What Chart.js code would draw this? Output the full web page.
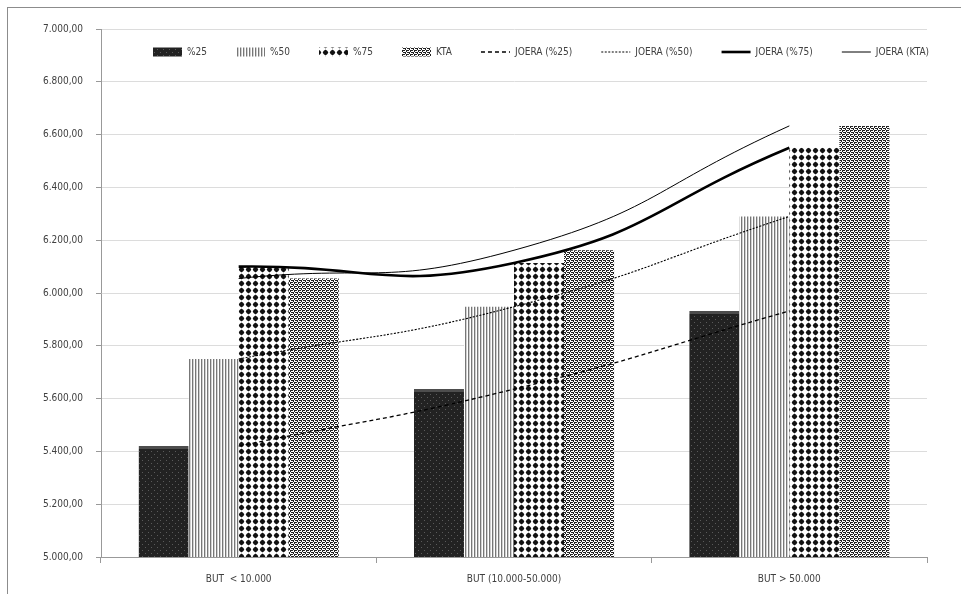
<!DOCTYPE html>
<html>
<head>
<meta charset="utf-8">
<script src="https://cdn.jsdelivr.net/npm/chart.js@4.4.1/dist/chart.umd.min.js"></script>
<style>
  html, body { margin: 0; padding: 0; background: #fff; overflow: hidden; }
  #frame { position: absolute; left: 7px; top: 7px; width: 1100px; height: 800px; border: 1px solid #8c8c8c; }
  #chart { position: absolute; left: 0; top: 0; }
</style>
</head>
<body>
<div id="frame"></div>
<canvas id="chart" width="961" height="594"></canvas>
<script>
// data
const categories = ['BUT  < 10.000', 'BUT (10.000-50.000)', 'BUT > 50.000'];
const p25 = [5420, 5636, 5932];
const p50 = [5750, 5948, 6290];
const p75 = [6100, 6114, 6550];
const kta = [6055, 6162, 6633];
const barNames = ['%25', '%50', '%75', 'KTA'];
const trendNames = ['JOERA (%25)', 'JOERA (%50)', 'JOERA (%75)', 'JOERA (KTA)'];

const canvas = document.getElementById('chart');
const ctx = canvas.getContext('2d');

// fill patterns
function makePattern(w, h, draw) {
    const c = document.createElement('canvas');
    c.width = w;
    c.height = h;
    const g = c.getContext('2d');
    draw(g);
    return ctx.createPattern(c, 'repeat');
}

function pixels(g, rows, color) {
    g.fillStyle = color;
    rows.forEach((r, y) => {
        for (let x = 0; x < r.length; x++) {
            if (r[x] === '#') g.fillRect(x, y, 1, 1);
        }
    });
}

const pat25 = makePattern(6, 6, g => {
    g.fillStyle = '#222';
    g.fillRect(0, 0, 6, 6);
    g.fillStyle = '#5a5a5a';
    g.fillRect(1, 1, 1, 1);
    g.fillRect(4, 4, 1, 1);
});
const pat50 = makePattern(3, 1, g => {
    g.fillStyle = '#fff';
    g.fillRect(0, 0, 3, 1);
    g.fillStyle = '#777';
    g.fillRect(0, 0, 1, 1);
    g.fillStyle = '#d0d0d0';
    g.fillRect(1, 0, 1, 1);
});
const pat75 = makePattern(7, 7, g => {
    g.fillStyle = '#fff';
    g.fillRect(0, 0, 7, 7);
    g.fillStyle = '#111';
    g.beginPath();
    g.moveTo(3.5, 0.6);
    g.lineTo(6.4, 3.5);
    g.lineTo(3.5, 6.4);
    g.lineTo(0.6, 3.5);
    g.closePath();
    g.fill();
    g.beginPath();
    g.arc(3.5, 3.5, 2.3, 0, Math.PI * 2);
    g.fill();
});
const patKta = makePattern(4, 4, g => {
    g.fillStyle = '#fff';
    g.fillRect(0, 0, 4, 4);
    pixels(g, ['##.#', '.#..', '#.##', '..#.'], '#222');
});

function fmt(v) {
    const s = Math.round(v).toString().replace(/\B(?=(\d{3})+(?!\d))/g, '.');
    return s + ',00';
}

// legend drawn inside the plot area
const insideLegend = {
    id: 'insideLegend',
    afterLayout(chart) {
        const lg = chart.legend;
        if (!lg || lg.fullHeight === undefined) return;
        lg.left = 124;
        lg.right = 1040;
        lg.top = 18;
        lg.height = lg.fullHeight;
        lg.bottom = lg.top + lg.fullHeight;
        lg.width = lg.right - lg.left;
    }
};

Chart.defaults.font.family = "'DejaVu Sans Condensed', 'DejaVu Sans', sans-serif";
Chart.defaults.font.size = 10;
Chart.defaults.color = '#404040';

const barDefaults = { type: 'bar', order: 1, barPercentage: 1, categoryPercentage: 0.727, borderWidth: 0 };
const lineDefaults = { type: 'line', order: 0, borderColor: '#000', pointRadius: 0, tension: 0.5, fill: false };

const chart = new Chart(canvas, {
    data: {
        labels: categories,
        datasets: [
            { ...barDefaults, label: barNames[0], data: p25, backgroundColor: pat25, borderColor: '#4d4d4d', borderWidth: { top: 3, left: 0, right: 0, bottom: 0 } },
            { ...barDefaults, label: barNames[1], data: p50, backgroundColor: pat50 },
            { ...barDefaults, label: barNames[2], data: p75, backgroundColor: pat75 },
            { ...barDefaults, label: barNames[3], data: kta, backgroundColor: patKta },
            { ...lineDefaults, label: trendNames[0], data: p25, borderWidth: 1.3, borderDash: [4, 3] },
            { ...lineDefaults, label: trendNames[1], data: p50, borderWidth: 1.1, borderDash: [2, 1.5] },
            { ...lineDefaults, label: trendNames[2], data: p75, borderWidth: 2.6 },
            { ...lineDefaults, label: trendNames[3], data: kta, borderWidth: 1 }
        ]
    },
    options: {
        responsive: false,
        animation: false,
        devicePixelRatio: 1,
        layout: { padding: { top: 29, right: 34, bottom: 0, left: 0 } },
        plugins: {
            tooltip: { enabled: false },
            legend: {
                position: 'top',
                align: 'start',
                labels: {
                    usePointStyle: true,
                    pointStyleWidth: 29,
                    boxHeight: 9,
                    padding: 29,
                    generateLabels(chart) {
                        return chart.data.datasets.map((ds, i) => ({
                            text: ds.label,
                            datasetIndex: i,
                            fillStyle: ds.type === 'bar' ? ds.backgroundColor : '#000',
                            strokeStyle: '#000',
                            lineWidth: ds.type === 'bar' ? 0 : ds.borderWidth,
                            lineDash: ds.borderDash || [],
                            pointStyle: ds.type === 'bar' ? 'rect' : 'line',
                            fontColor: '#404040'
                        }));
                    }
                }
            }
        },
        scales: {
            x: {
                grid: { offset: true, drawOnChartArea: false, tickLength: 6, tickColor: '#999' },
                border: { color: '#999' },
                ticks: { padding: 10, color: '#404040' },
                afterFit(s) { s.height = 37; }
            },
            y: {
                min: 5000,
                max: 7000,
                grid: { color: '#dcdcdc', tickLength: 5, tickColor: '#999' },
                border: { color: '#999' },
                ticks: { stepSize: 200, padding: 13, color: '#404040', callback: v => fmt(v) },
                afterFit(s) { s.width = 101; }
            }
        }
    },
    plugins: [insideLegend]
});

// keep the legend out of the layout so it sits over the plot
const fitLegend = chart.legend.fit;
chart.legend.fit = function () {
    fitLegend.call(this);
    this.fullHeight = this.height;
    this.height = 0;
};
chart.update();
</script>
</body>
</html>
